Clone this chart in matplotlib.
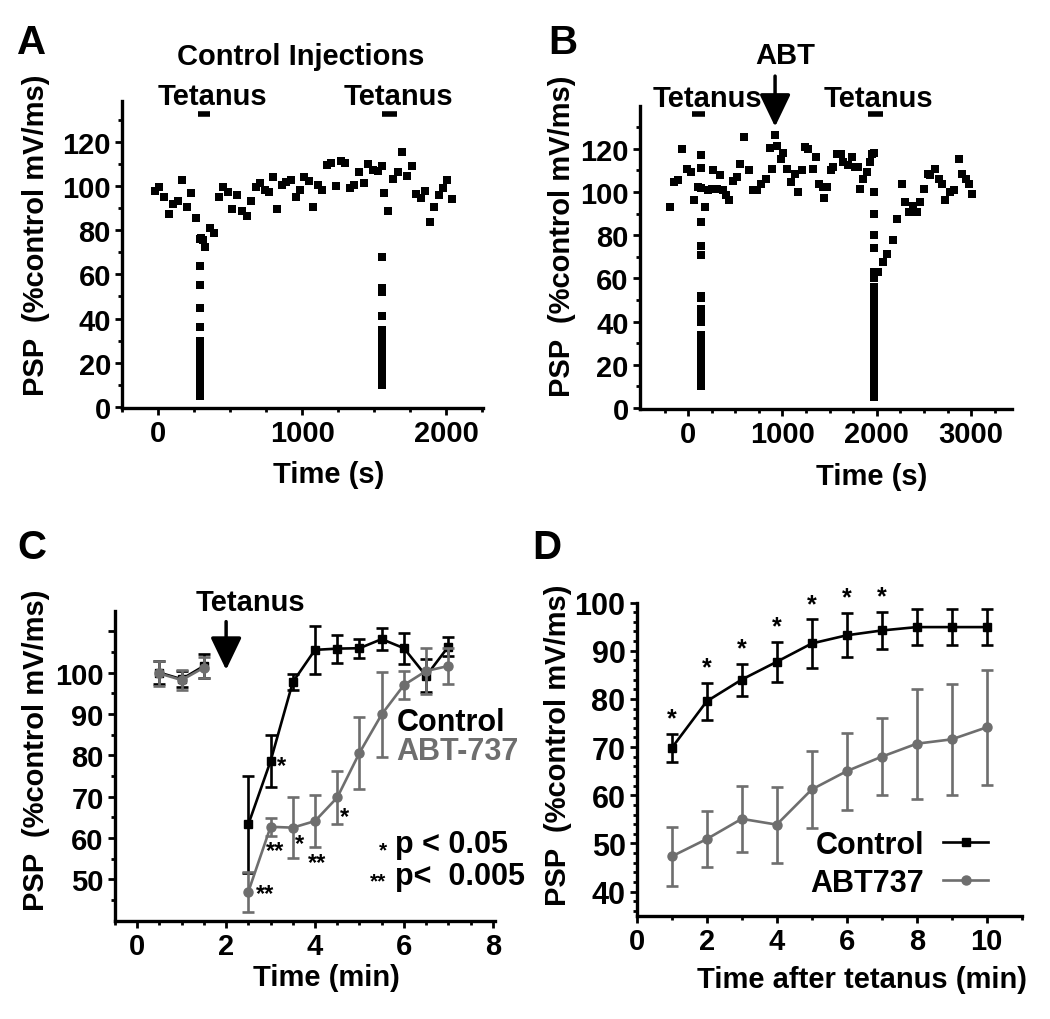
import matplotlib
matplotlib.use('Agg')
from matplotlib import pyplot as plt
from matplotlib.lines import Line2D

plt.rcParams['font.family'] = ['Liberation Sans', 'DejaVu Sans']
plt.rcParams['font.weight'] = 'bold'
plt.rcParams['axes.labelweight'] = 'bold'

GREY = '#6e6e6e'

# ---- panel A: control injections (time in s, PSP in % control)
a_time = [-23, 7, 39, 74, 103, 138, 168, 200, 230, 260, 300, 310, 326, 361, 391,
          421, 453, 483, 515, 547, 579, 614, 644, 678, 710, 740, 770, 798, 825,
          857, 890, 924, 954, 984, 1011, 1046, 1076, 1108, 1140, 1172, 1202, 1237,
          1270, 1299, 1329, 1361, 1393, 1425, 1457, 1490, 1524, 1554, 1568, 1598,
          1632, 1662, 1694, 1726, 1759, 1789, 1821, 1851, 1883, 1913, 1945, 1977,
          2007, 2039]
a_psp = [97.7, 99.4, 94.9, 87.2, 91.9, 93.4, 102.7, 90.7, 96.7, 85.6, 76.7, 75.6,
         72.6, 81.2, 78.6, 94.9, 99.4, 97.4, 89.6, 95.9, 88.7, 86.6, 93.4, 99.4,
         101.2, 98.2, 97.4, 103.9, 89.6, 100.5, 102.0, 102.7, 94.9, 98.2, 103.9,
         102.3, 90.7, 100.5, 98.2, 109.5, 110.5, 100.2, 111.3, 110.5, 99.2, 100.5,
         106.2, 101.2, 109.9, 107.2, 106.9, 108.9, 96.7, 88.9, 103.0, 106.2, 115.6,
         104.5, 109.0, 96.2, 94.4, 97.7, 83.9, 90.7, 95.9, 99.2, 102.7, 94.0]
# samples taken during each tetanus (all at one time point)
a_tet_time = [290, 1556]
a_tet1_psp = [76, 64, 55, 45, 36, 30, 29, 28, 27, 26, 25, 24, 23, 22, 21,
              20, 19, 18, 17, 16, 15, 14, 13, 12, 11, 10, 9, 8, 7, 6, 5]
a_tet2_psp = [68, 54, 52, 41, 35, 34, 33, 32, 31, 30, 29, 28, 27, 26,
              25, 24, 23, 22, 21, 20, 19, 18, 17, 16, 15, 14, 13, 12, 11, 10]

# ---- panel B: ABT-737 injection
b_time = [-191, -148, -103, -60, -14, 28, 67, 103, 180, 216, 251, 269, 304, 339,
          375, 403, 435, 481, 523, 551, 594, 647, 693, 735, 774, 824, 870, 894,
          922, 940, 983, 1011, 1046, 1089, 1135, 1170, 1205, 1241, 1276, 1329,
          1354, 1389, 1425, 1442, 1471, 1513, 1541, 1577, 1619, 1647, 1700, 1736,
          1764, 1799, 1824, 1859, 1895, 1930, 1948, 2018, 2061, 2107, 2170, 2213,
          2266, 2301, 2337, 2382, 2425, 2460, 2503, 2538, 2566, 2619, 2662, 2690,
          2725, 2771, 2814, 2867, 2902, 2944, 2980, 3008]
b_psp = [93.1, 104.6, 105.4, 120.0, 110.8, 109.5, 96.2, 102.3, 93.1, 100.8, 101.5,
         110.0, 101.5, 107.7, 100.8, 98.5, 96.2, 104.9, 106.9, 113.1, 125.7, 110.0,
         100.8, 100.8, 103.8, 106.2, 120.3, 110.8, 126.2, 121.1, 115.4, 118.0, 110.5,
         104.6, 108.5, 100.0, 110.0, 120.8, 120.0, 110.8, 116.2, 103.8, 102.3, 97.4,
         102.3, 110.0, 111.5, 117.7, 117.7, 113.8, 112.3, 116.2, 111.5, 111.5, 101.5,
         106.2, 109.2, 113.8, 117.7, 63.0, 67.7, 71.5, 77.7, 87.4, 103.8, 95.4, 90.8,
         93.5, 90.8, 95.4, 101.5, 108.5, 107.7, 110.8, 106.2, 103.8, 96.2, 100.0,
         100.8, 115.4, 108.5, 106.2, 103.8, 99.2]
b_tet_time = [138, 1972]
b_abt_time = 922
b_tet1_psp = [117, 111, 102, 86, 75, 71, 52, 51, 46, 42, 40, 34, 33, 32, 31, 30, 29,
              28, 27, 26, 25, 24, 23, 22, 21, 20, 19, 18, 17, 16, 15, 14, 13, 12,
              11, 10]
b_tet2_psp = [118, 100, 90, 80, 74, 63, 60, 56, 53, 50, 47, 46, 45, 44, 43, 42, 41,
              40, 39, 38, 37, 36, 35, 34, 33, 32, 31, 30, 29, 28, 27, 26, 25, 24,
              23, 22, 21, 20, 19, 18, 17, 16, 15, 14, 13, 12, 11, 10, 9, 8, 7, 6, 5]

# ---- panel C: averaged time course (min); first 3 points are pre-tetanus
c_time = [0.5, 1.0, 1.5, 2.5, 3.0, 3.5, 4.0, 4.5, 5.0, 5.5, 6.0, 6.5, 7.0]
c_ctrl = [100.0, 98.4, 101.6, 63.3, 78.6, 97.7, 105.5, 105.8, 105.9, 108.1, 105.9, 99.2, 106.3]
c_ctrl_err = [2.8, 2.0, 3.0, 11.7, 6.2, 2.0, 5.8, 3.4, 2.3, 2.7, 3.8, 4.0, 2.4]
c_abt = [99.8, 98.2, 101.2, 47.0, 62.7, 62.5, 64.1, 69.8, 80.6, 89.9, 97.0, 100.4, 101.6]
c_abt_err = [3.0, 2.5, 2.5, 4.8, 2.2, 7.4, 6.2, 6.4, 8.7, 10.2, 3.3, 5.6, 4.4]
c_pre = 3

# ---- panel D: time after tetanus (min)
d_time = [1, 2, 3, 4, 5, 6, 7, 8, 9, 10]
d_ctrl = [69.8, 79.5, 84.0, 87.7, 91.5, 93.2, 94.2, 94.9, 94.9, 94.9]
d_ctrl_err = [3.0, 3.8, 3.3, 4.2, 5.0, 4.6, 3.9, 3.8, 3.8, 3.8]
d_abt = [47.3, 50.9, 55.1, 53.9, 61.2, 65.0, 68.0, 70.7, 71.6, 74.1]
d_abt_err = [6.2, 5.8, 6.8, 7.9, 7.9, 8.0, 8.0, 11.4, 11.5, 11.9]
d_sig = 7  # first 7 points marked *

YLAB = 'PSP  (%control mV/ms)'
ARROW = '-|>,head_length=1.0,head_width=0.48'


def style(ax, fs):
    for s in ['top', 'right']:
        ax.spines[s].set_visible(False)
    for s in ['left', 'bottom']:
        ax.spines[s].set_linewidth(2.4)
    ax.tick_params(which='both', direction='out', width=2, labelsize=fs, pad=3)
    ax.tick_params(which='major', length=5)
    ax.tick_params(which='minor', length=3)


def column(ax, t, vals):
    ax.plot([t] * len(vals), vals, 's', color='k', ms=5.2, mew=0, clip_on=False)


def err_series(ax, x, y, e, color, marker, ms, z, split):
    ax.errorbar(x, y, yerr=e, color=color, marker=marker, ms=ms, ls='none',
                elinewidth=1.9, capsize=4, capthick=1.9, zorder=z)
    ax.plot(x[:split], y[:split], color=color, lw=1.9, zorder=z)
    ax.plot(x[split:], y[split:], color=color, lw=1.9, zorder=z)


fig = plt.figure(figsize=(10.5, 10.2), dpi=100)

# ================= A
ax = fig.add_axes([0.1162, 0.599, 0.344, 0.301])
ax.plot(a_time, a_psp, 's', color='k', ms=5.2, mew=0)
column(ax, a_tet_time[0], a_tet1_psp)
column(ax, a_tet_time[1], a_tet2_psp)
ax.set_xlim(-240, 2255)
ax.set_ylim(-0.5, 138.5)
ax.set_xticks([0, 1000, 2000])
ax.set_xticks(range(-250, 2251, 250), minor=True)
ax.set_yticks(range(0, 121, 20))
ax.set_yticks(range(0, 131, 10), minor=True)
style(ax, 21)
ax.set_ylabel(YLAB, fontsize=21)
ax.yaxis.set_label_coords(-0.2, 0.567)
ax.set_xlabel('Time (s)', fontsize=21, va='top')
ax.xaxis.set_label_coords(0.571, -0.168)
ax.text(990, 158.8, 'Control Injections', fontsize=21, ha='center', va='center')
for t0, t1, tx in [(276, 363, 380), (1556, 1655, 1670)]:
    ax.plot([t0, t1], [132.8, 132.8], color='k', lw=4, solid_capstyle='butt', clip_on=False)
    ax.text(tx, 140.6, 'Tetanus', fontsize=21, ha='center', va='center')

# ================= B
ax = fig.add_axes([0.6095, 0.598, 0.354, 0.2974])
ax.plot(b_time, b_psp, 's', color='k', ms=5.2, mew=0)
column(ax, b_tet_time[0], b_tet1_psp)
column(ax, b_tet_time[1], b_tet2_psp)
ax.set_xlim(-510, 3430)
ax.set_ylim(-0.5, 140)
ax.set_xticks([0, 1000, 2000, 3000])
ax.set_xticks(range(-250, 3251, 250), minor=True)
ax.set_yticks(range(0, 121, 20))
ax.set_yticks(range(0, 131, 10), minor=True)
style(ax, 21)
ax.set_ylabel(YLAB, fontsize=21)
ax.yaxis.set_label_coords(-0.172, 0.574)
ax.set_xlabel('Time (s)', fontsize=21, va='top')
ax.xaxis.set_label_coords(0.623, -0.176)
for t0, t1, tx in [(39, 180, 200), (1912, 2064, 2018)]:
    ax.plot([t0, t1], [136.2, 136.2], color='k', lw=4, solid_capstyle='butt', clip_on=False)
    ax.text(tx, 143.6, 'Tetanus', fontsize=21, ha='center', va='center')
ax.annotate('', xy=(b_abt_time, 129), xytext=(b_abt_time, 155), annotation_clip=False,
            arrowprops=dict(arrowstyle=ARROW, mutation_scale=20, lw=2.5, color='k'))
ax.text(1029, 163.5, 'ABT', fontsize=21, ha='center', va='center')

# ================= C
ax = fig.add_axes([0.1095, 0.0964, 0.362, 0.304])
err_series(ax, c_time, c_ctrl, c_ctrl_err, 'k', 's', 6, 3, c_pre)
err_series(ax, c_time, c_abt, c_abt_err, GREY, 'o', 6.5, 4, c_pre)
ax.set_xlim(-0.5, 8.05)
ax.set_ylim(40, 115)
ax.set_xticks([0, 2, 4, 6, 8])
ax.set_xticks([i * 0.5 for i in range(-1, 17)], minor=True)
ax.set_yticks([50, 60, 70, 80, 90, 100, 110], labels=['50', '60', '70', '80', '90', '100', ''])
ax.set_yticks(range(45, 115, 5), minor=True)
style(ax, 21)
ax.set_ylabel(YLAB, fontsize=21)
ax.yaxis.set_label_coords(-0.172, 0.554)
ax.set_xlabel('Time (min)', fontsize=21, va='top')
ax.xaxis.set_label_coords(0.557, -0.135)
ax.annotate('', xy=(2, 100), xytext=(2, 113), annotation_clip=False,
            arrowprops=dict(arrowstyle=ARROW, mutation_scale=20, lw=2.5, color='k'))
ax.text(2.54, 117.0, 'Tetanus', fontsize=21, ha='center', va='center')
ax.text(5.83, 88.1, 'Control', fontsize=22, color='k', va='center')
ax.text(5.83, 81.0, 'ABT-737', fontsize=22, color=GREY, va='center', clip_on=False)
for x, y, s in [(3.25, 77.5, '*'), (3.1, 57.0, '**'), (3.65, 58.6, '*'),
                (4.04, 54.1, '**'), (4.67, 65.3, '*'), (2.88, 46.5, '**')]:
    ax.text(x, y, s, fontsize=17, ha='center', va='center')
ax.text(5.53, 57.0, '*', fontsize=15, ha='center', va='center')
ax.text(5.79, 58.5, 'p < 0.05', fontsize=22, va='center')
ax.text(5.42, 49.6, '**', fontsize=15, ha='center', va='center')
ax.text(5.79, 50.8, 'p<  0.005', fontsize=22, va='center', clip_on=False)

# ================= D
ax = fig.add_axes([0.6064, 0.1013, 0.3667, 0.307])
err_series(ax, d_time, d_ctrl, d_ctrl_err, 'k', 's', 6, 4, 0)
err_series(ax, d_time, d_abt, d_abt_err, GREY, 'o', 6.5, 3, 0)
for x, y, e in zip(d_time[:d_sig], d_ctrl, d_ctrl_err):
    ax.text(x, y + e + 3.2, '*', fontsize=18, ha='center', va='center')
ax.set_xlim(0, 11)
ax.set_ylim(35, 100)
ax.set_xticks([0, 2, 4, 6, 8, 10])
ax.set_xticks(range(0, 12), minor=True)
ax.set_yticks(range(40, 101, 10))
ax.set_yticks(range(36, 101, 2), minor=True)
style(ax, 21)
ax.tick_params(axis='y', labelsize=22)
ax.set_ylabel(YLAB, fontsize=21)
ax.yaxis.set_label_coords(-0.168, 0.548)
ax.set_xlabel('Time after tetanus (min)', fontsize=21, va='top')
ax.xaxis.set_label_coords(0.584, -0.158)
handles = [Line2D([], [], color='k', marker='s', ms=6, lw=1.9),
           Line2D([], [], color=GREY, marker='o', ms=6.5, lw=1.9)]
ax.legend(handles, ['Control', 'ABT737'], loc='lower right', bbox_to_anchor=(0.985, -0.03),
          frameon=False, markerfirst=False, fontsize=22, handlelength=1.5,
          handletextpad=0.6, labelspacing=0.25)

# panel letters
for x, y, s in [(0.0305, 0.958, 'A'), (0.536, 0.958, 'B'),
                (0.0305, 0.4627, 'C'), (0.521, 0.4627, 'D')]:
    fig.text(x, y, s, fontsize=29, ha='center', va='center')

fig.savefig('out.png', dpi=100)
